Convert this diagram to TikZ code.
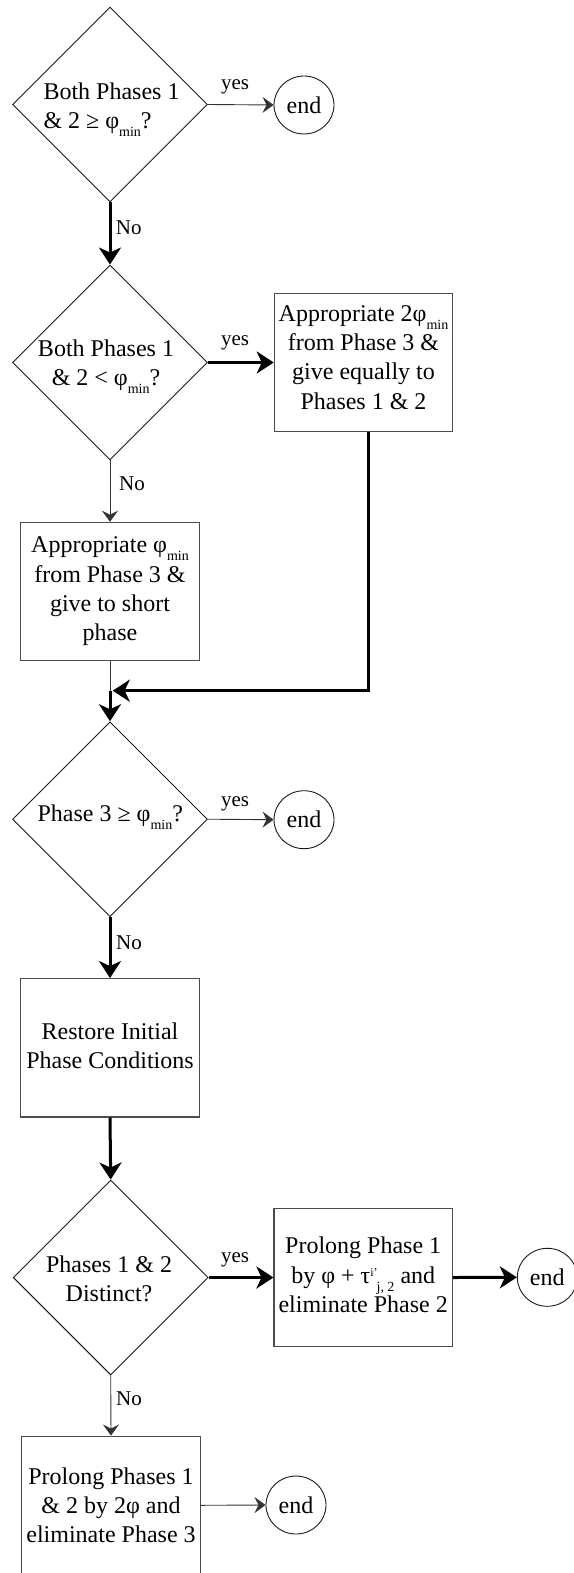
\documentclass[tikz,border=0pt]{standalone}
\usepackage{fontspec}
\setmainfont{Liberation Serif}
\usetikzlibrary{shapes.geometric,arrows.meta}
\newcommand\lsub[1]{\raisebox{-8pt}{\fontsize{14pt}{14pt}\selectfont #1}}
\newcommand\hsup[1]{\raisebox{7pt}{\fontsize{12pt}{12pt}\selectfont #1}}
\begin{document}
\begin{tikzpicture}[x=1pt,y=-1pt,
  dia/.style={draw=black!90, diamond, minimum width=195pt, minimum height=195pt, inner sep=0pt, line width=0.9pt},
  box/.style={draw=black!70, rectangle, minimum width=178.4pt, minimum height=138.4pt, inner sep=0pt, line width=1.1pt},
  txt/.style={font=\fontsize{24pt}{29.2pt}\selectfont, inner sep=0pt, align=center},
  term/.style={draw=black!90, ellipse, minimum width=60pt, minimum height=58pt, inner sep=0pt, line width=0.9pt, font=\fontsize{24pt}{24pt}\selectfont},
  lab/.style={font=\fontsize{21pt}{21pt}\selectfont, inner sep=0pt},
  slimarrow/.style={draw=black!80, line width=0.9pt, -{Stealth[length=11pt,width=16pt,inset=4pt]}},
  slimline/.style={draw=black!80, line width=0.9pt},
  boldarrow/.style={draw=black, line width=3pt, -{Stealth[length=17pt,width=22pt,inset=5pt]}}]
\useasboundingbox (0,0) rectangle (573,1573);
% decision nodes
\node[dia] (d1) at (110,104.5) {};
\node[dia] (d2) at (110,362.5) {};
\node[dia] (d3) at (110,819.2) {};
\node[dia] (d4) at (110.7,1277.5) {};
% process boxes
\node[box] (bA) at (363.5,362.5) {};
\node[box] (bB) at (110,591.5) {};
\node[box] (bC) at (110,1047.8) {};
\node[box] (bD) at (363.2,1277.5) {};
\node[box] (bE) at (111,1505.3) {};
% terminals
\node[term] (e1) at (304,105) {end};
\node[term] (e2) at (304,819.7) {end};
\node[term] (e3) at (547.3,1277.3) {end};
\node[term] (e4) at (296,1505) {end};
% texts
\node[txt, align=left, anchor=west] (t1) at (43.3,109.4) {Both Phases 1\\\& 2 ≥ φ\lsub{min}?};
\node[txt] (t2) at (106,366.5) {Both Phases 1\\\& 2 < φ\lsub{min}?};
\node[txt, anchor=base] (t3) at (110.3,821.7) {Phase 3 ≥ φ\lsub{min}?};
\node[txt] (t4) at (109,1279.2) {Phases 1 \& 2\\Distinct?};
\node[txt] (tA) at (363.5,357.5) {Appropriate 2φ\lsub{min}\\from Phase 3 \&\\give equally to\\Phases 1 \& 2};
\node[txt] (tB) at (110,591.3) {Appropriate φ\lsub{min}\\from Phase 3 \&\\give to short\\phase};
\node[txt] (tC) at (110,1045.4) {Restore Initial\\Phase Conditions};
\node[txt] (tD) at (363.2,1274.9) {Prolong Phase 1\\by φ + τ\hsup{i’}\kern-1pt\lsub{j, 2} and\\eliminate Phase 2};
\node[txt] (tE) at (111,1505.4) {Prolong Phases 1\\\& 2 by 2φ and\\eliminate Phase 3};
% junction
\coordinate (j) at (110,690.7);
\coordinate (jr) at (112.7,690.7);
% connectors
\draw[slimarrow] (d1.east) -- (e1.west);
\draw[boldarrow] (d1.south) -- (d2.north);
\draw[boldarrow] (d2.east) -- (bA.west);
\draw[slimarrow] (d2.south) -- (bB.north);
\draw[slimline] (bB.south) -- (j);
\draw[boldarrow] ([xshift=4.8pt]bA.south) |- (jr);
\draw[boldarrow] (j) -- (d3.north);
\draw[slimarrow] (d3.east) -- (e2.west);
\draw[boldarrow] (d3.south) -- (bC.north);
\draw[boldarrow] (bC.south) -- (d4.north);
\draw[boldarrow] (d4.east) -- (bD.west);
\draw[boldarrow] (bD.east) -- (e3.west);
\draw[slimarrow] (d4.south) -- (bE.north);
\draw[slimarrow] (bE.east) -- (e4.west);
% labels
\node[lab] (y1) at (235,87.3) {yes};
\node[lab] (y2) at (235,343) {yes};
\node[lab] (y3) at (235,804) {yes};
\node[lab] (y4) at (235,1260) {yes};
\node[lab] (n1) at (128.7,227.7) {No};
\node[lab] (n2) at (132,484) {No};
\node[lab] (n3) at (129,942.3) {No};
\node[lab] (n4) at (129,1399) {No};
\end{tikzpicture}
\end{document}
